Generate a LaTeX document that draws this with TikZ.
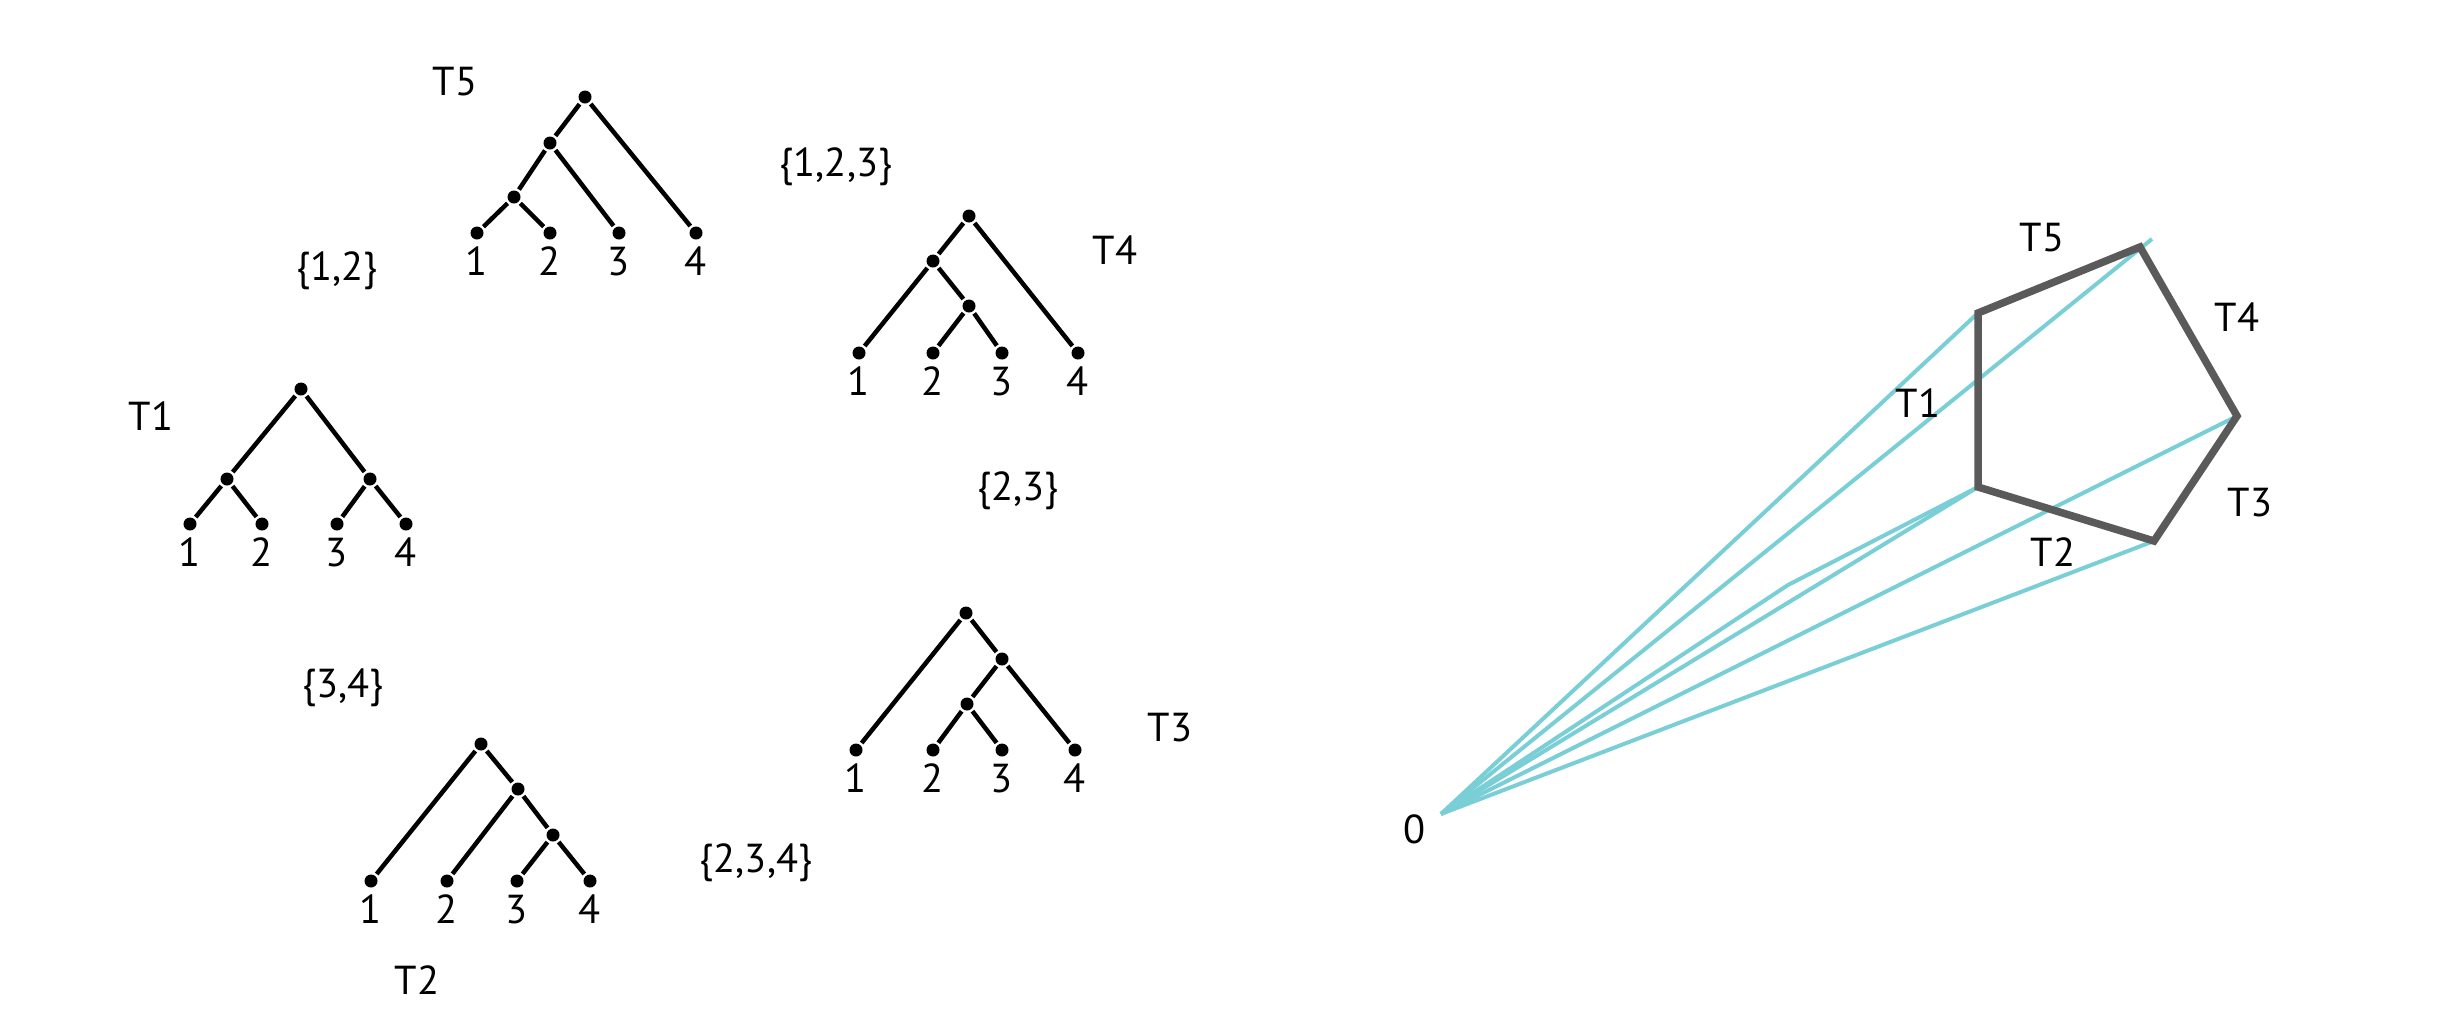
\documentclass[tikz,border=0pt]{standalone}
\usepackage{fontspec}
\setmainfont{PT Sans}
\usepackage{tikz}
\usetikzlibrary{
    positioning
}

\definecolor{raycyan}{RGB}{122,207,214}
\definecolor{pentgray}{RGB}{90,90,90}

\begin{document}
\begin{tikzpicture}[
x=0.01cm, y=-0.01cm,
font=\fontsize{11.5}{13}\selectfont,
dot/.style={
circle,
fill=black,
inner sep=0pt,
minimum size=0.13cm,
outer sep=0.025cm
},
edge/.style={
line width=0.045cm
},
num/.style={
inner sep=0pt,
outer sep=0pt
},
leaf/.style={
dot,
label={[num, label distance=0.05cm]below:#1}
},
ray/.style={
raycyan,
line width=0.04cm
},
pent/.style={
pentgray,
line width=0.075cm,
line join=miter
}
]

\useasboundingbox (0,0) rectangle (2442,1033);

% tree T5
\node[dot] (t5r) at (585,97) {};
\node[dot] (t5a) at (550,143) {};
\node[dot] (t5b) at (514,197) {};
\node[leaf=1] (t5l1) at (477,233) {};
\node[leaf=2] (t5l2) at (550,233) {};
\node[leaf=3] (t5l3) at (619,233) {};
\node[leaf=4] (t5l4) at (696,233) {};
\draw[edge] (t5r) -- (t5a) -- (t5b) -- (t5l1);
\draw[edge] (t5b) -- (t5l2);
\draw[edge] (t5a) -- (t5l3);
\draw[edge] (t5r) -- (t5l4);
\node (t5name) at (455,82) {T5};

% tree T1
\node[dot] (t1r) at (301,389) {};
\node[dot] (t1a) at (227,479) {};
\node[dot] (t1b) at (370,479) {};
\node[leaf=1] (t1l1) at (190,524) {};
\node[leaf=2] (t1l2) at (262,524) {};
\node[leaf=3] (t1l3) at (337,524) {};
\node[leaf=4] (t1l4) at (406,524) {};
\draw[edge] (t1r) -- (t1a) -- (t1l1);
\draw[edge] (t1a) -- (t1l2);
\draw[edge] (t1r) -- (t1b) -- (t1l3);
\draw[edge] (t1b) -- (t1l4);
\node (t1name) at (151,416) {T1};

% tree T4
\node[dot] (t4r) at (969,216) {};
\node[dot] (t4a) at (933,261) {};
\node[dot] (t4b) at (969,306) {};
\node[leaf=1] (t4l1) at (859,353) {};
\node[leaf=2] (t4l2) at (933,353) {};
\node[leaf=3] (t4l3) at (1002,353) {};
\node[leaf=4] (t4l4) at (1078,353) {};
\draw[edge] (t4r) -- (t4a) -- (t4l1);
\draw[edge] (t4a) -- (t4b) -- (t4l2);
\draw[edge] (t4b) -- (t4l3);
\draw[edge] (t4r) -- (t4l4);
\node (t4name) at (1115,250) {T4};

% tree T3
\node[dot] (t3r) at (966,613) {};
\node[dot] (t3a) at (1002,659) {};
\node[dot] (t3b) at (967,704) {};
\node[leaf=1] (t3l1) at (856,750) {};
\node[leaf=2] (t3l2) at (933,750) {};
\node[leaf=3] (t3l3) at (1002,750) {};
\node[leaf=4] (t3l4) at (1075,750) {};
\draw[edge] (t3r) -- (t3l1);
\draw[edge] (t3r) -- (t3a) -- (t3b) -- (t3l2);
\draw[edge] (t3b) -- (t3l3);
\draw[edge] (t3a) -- (t3l4);
\node (t3name) at (1170,728) {T3};

% tree T2
\node[dot] (t2r) at (481,744) {};
\node[dot] (t2a) at (518,789) {};
\node[dot] (t2b) at (553,835) {};
\node[leaf=1] (t2l1) at (371,881) {};
\node[leaf=2] (t2l2) at (447,881) {};
\node[leaf=3] (t2l3) at (517,881) {};
\node[leaf=4] (t2l4) at (590,881) {};
\draw[edge] (t2r) -- (t2l1);
\draw[edge] (t2r) -- (t2a) -- (t2l2);
\draw[edge] (t2a) -- (t2b) -- (t2l3);
\draw[edge] (t2b) -- (t2l4);
\node (t2name) at (417,980) {T2};

% moves between trees
\node (s12) at (337,271) {\{1,2\}};
\node (s123) at (836,167) {\{1,2,3\}};
\node (s23) at (1018,491) {\{2,3\}};
\node (s34) at (343,688) {\{3,4\}};
\node (s234) at (756,863) {\{2,3,4\}};

% polytope
\coordinate (o) at (1441,814);
\coordinate (pa) at (1978,313);
\coordinate (pb) at (2140,247);
\coordinate (pc) at (2237,416);
\coordinate (pd) at (2154,541);
\coordinate (pe) at (1978,487);
\coordinate (pbend) at (2152,239);
\coordinate (kink) at (1788,585);

\draw[ray] (o) -- (pa);
\draw[ray] (o) -- (pbend);
\draw[ray] (o) -- (pc);
\draw[ray] (o) -- (pd);
\draw[ray] (o) -- (pe);
\draw[ray] (o) -- (kink) -- (pe);

\draw[pent] (pa) -- (pb) -- (pc) -- (pd) -- (pe) -- cycle;

\node (zero) at (1415,829) {0};
\node (p5) at (2042,238) {T5};
\node (p4) at (2237,317) {T4};
\node (p1) at (1918,403) {T1};
\node (p3) at (2250,503) {T3};
\node (p2) at (2053,552) {T2};

\end{tikzpicture}
\end{document}
